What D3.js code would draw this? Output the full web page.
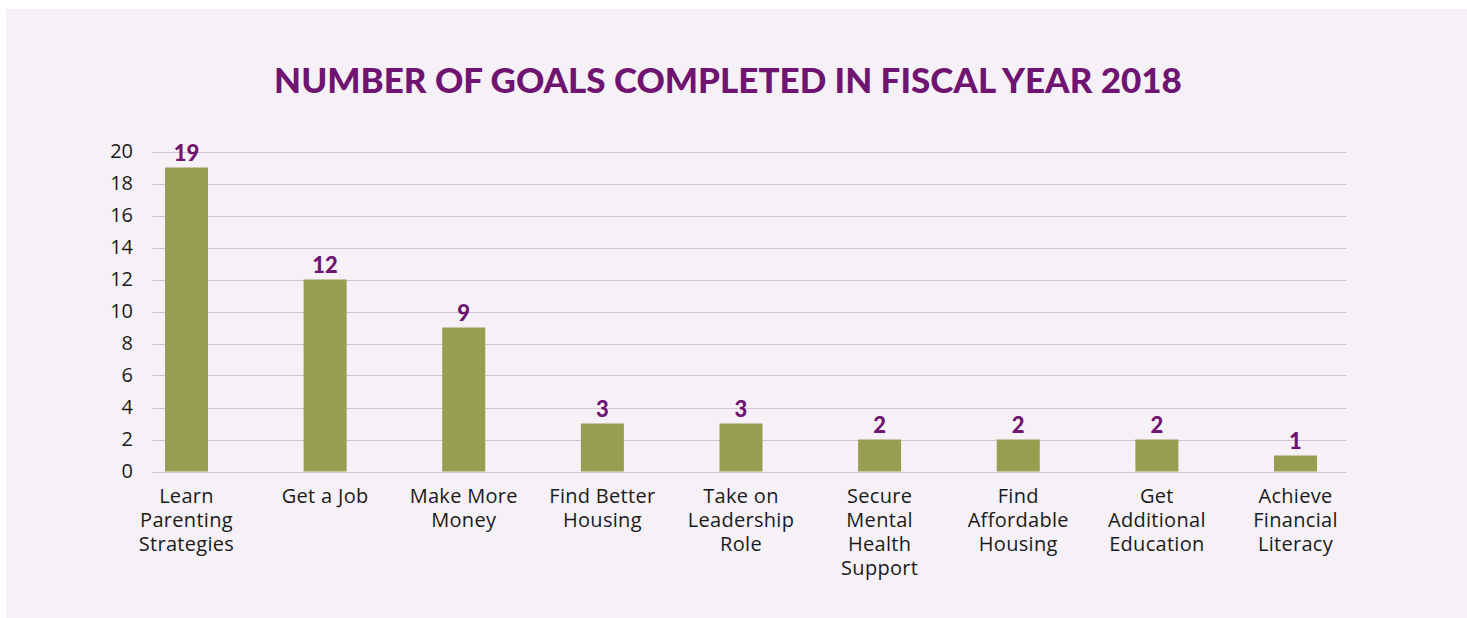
<!DOCTYPE html>
<html>
<head>
<meta charset="utf-8">
<script src="https://cdn.jsdelivr.net/npm/d3@7"></script>
<style>
    body { margin: 0; background: #ffffff; }
    svg { display: block; }
</style>
</head>
<body>
<div id="chart"></div>
<script>
const title = 'NUMBER OF GOALS COMPLETED IN FISCAL YEAR 2018';
const categories = [
    ['Learn', 'Parenting', 'Strategies'],
    ['Get a Job'],
    ['Make More', 'Money'],
    ['Find Better', 'Housing'],
    ['Take on', 'Leadership', 'Role'],
    ['Secure', 'Mental', 'Health', 'Support'],
    ['Find', 'Affordable', 'Housing'],
    ['Get', 'Additional', 'Education'],
    ['Achieve', 'Financial', 'Literacy']
];
const goals = [19, 12, 9, 3, 3, 2, 2, 2, 1];
const yTicks = [0, 2, 4, 6, 8, 10, 12, 14, 16, 18, 20];

const width = 1467, height = 618;
const purple = '#6f1470';
const barColor = '#969e50';
const gridColor = '#d6bfd9';
const bodyFont = '"Open Sans", sans-serif';

const svg = d3.select('#chart')
    .append('svg')
    .attr('width', width)
    .attr('height', height);

svg.append('rect')
    .attr('x', 6)
    .attr('y', 9)
    .attr('width', width - 6)
    .attr('height', height - 9)
    .attr('fill', '#f6f1f7');

svg.append('text')
    .attr('x', 728)
    .attr('y', 93)
    .attr('text-anchor', 'middle')
    .style('font-family', 'Lato, sans-serif')
    .attr('font-size', 35)
    .attr('font-weight', 900)
    .attr('fill', purple)
    .text(title);

const idx = categories.map((d, i) => i);

const x = d3.scalePoint()
    .domain(idx)
    .range([186.5, 1295.5]);

const y = d3.scaleLinear()
    .domain([0, 20])
    .range([471.5, 151.5]);

const gridLeft = 152, gridRight = 1346;

// gridlines
svg.append('g')
    .selectAll('line')
    .data(yTicks)
    .enter().append('line')
    .attr('x1', gridLeft)
    .attr('x2', gridRight)
    .attr('y1', d => Math.round(y(d)) + 0.5)
    .attr('y2', d => Math.round(y(d)) + 0.5)
    .attr('stroke', gridColor)
    .attr('stroke-width', 1);

// y axis labels
const yAxis = svg.append('g')
    .attr('transform', `translate(${gridLeft},0)`)
    .call(d3.axisLeft(y).tickValues(yTicks).tickSize(0).tickPadding(19));
yAxis.select('.domain').remove();
yAxis.attr('font-family', null).attr('font-size', null);
yAxis.selectAll('text')
    .style('font-family', bodyFont)
    .style('font-size', '20px')
    .attr('fill', '#1a1a1a');

const barWidth = 43;

svg.append('g')
    .selectAll('rect')
    .data(goals)
    .enter().append('rect')
    .attr('x', (d, i) => x(i) - barWidth / 2)
    .attr('y', d => y(d))
    .attr('width', barWidth)
    .attr('height', d => y(0) - y(d))
    .attr('fill', barColor);

svg.append('g')
    .selectAll('text')
    .data(goals)
    .enter().append('text')
    .attr('x', (d, i) => x(i))
    .attr('y', d => y(d) - 7)
    .attr('text-anchor', 'middle')
    .style('font-family', 'Lato, sans-serif')
    .attr('font-size', 22)
    .attr('font-weight', 900)
    .attr('fill', purple)
    .text(d => d);

// category labels
const catLabels = svg.append('g')
    .selectAll('text')
    .data(categories)
    .enter().append('text')
    .attr('x', (d, i) => x(i))
    .attr('y', 503)
    .attr('text-anchor', 'middle')
    .style('font-family', bodyFont)
    .attr('font-size', 20)
    .attr('letter-spacing', 0.3)
    .attr('fill', '#1a1a1a');

catLabels.each(function(lines, i) {
    d3.select(this).selectAll('tspan')
        .data(lines)
        .enter().append('tspan')
        .attr('x', x(i))
        .attr('dy', (l, j) => j === 0 ? 0 : 24)
        .text(l => l);
});
</script>
</body>
</html>
